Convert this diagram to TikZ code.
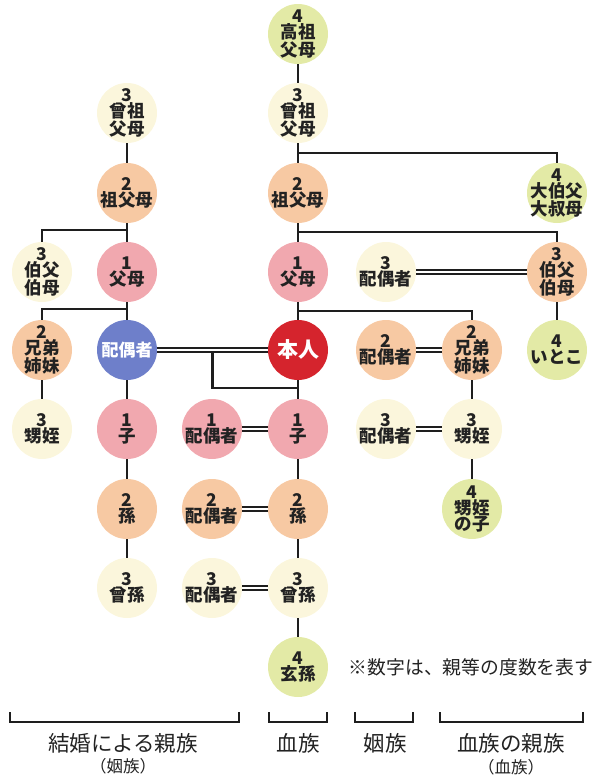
\documentclass[tikz,border=0pt]{standalone}
\usepackage{fontspec}
\setmainfont{Noto Sans CJK JP}
\usetikzlibrary{calc}
\definecolor{cgreen}{HTML}{E3EAA6}
\definecolor{ccream}{HTML}{FBF6DC}
\definecolor{cpeach}{HTML}{F7C9A3}
\definecolor{cpink}{HTML}{F1A8AF}
\definecolor{cblue}{HTML}{6E7FCA}
\definecolor{cred}{HTML}{D5242D}
\definecolor{txt}{HTML}{222222}
\definecolor{lnc}{HTML}{1E1E1E}
\begin{document}
\begin{tikzpicture}[x=1pt,y=-1pt,
  circ/.style={circle,minimum size=60pt,inner sep=-7pt,align=center,text=txt,
    font=\fontsize{17.5}{16}\selectfont\bfseries},
  cfour/.style={circ,fill=cgreen},
  cthree/.style={circ,fill=ccream},
  ctwo/.style={circ,fill=cpeach},
  cone/.style={circ,fill=cpink},
  cspouse/.style={circ,fill=cblue,text=white,font=\fontsize{17}{17}\selectfont\bfseries},
  cself/.style={circ,fill=cred,text=white,font=\fontsize{21}{21}\selectfont\bfseries},
  ln/.style={draw=lnc,line width=2.2pt},
  dbl/.style={draw=lnc,line width=1.7pt,double=white,double distance=2.6pt},
  brk/.style={draw=lnc,line width=1.1pt},
  biglbl/.style={text=txt,font=\fontsize{21.5}{21.5}\selectfont},
  smalllbl/.style={text=txt,font=\fontsize{16.5}{16.5}\selectfont},
  note/.style={text=txt,font=\fontsize{18.8}{18.8}\selectfont}]
\useasboundingbox (0,0) rectangle (603,776);

% ---- centre column (blood line)
\node[cfour]  (d0) at (298,34)  {4\\高祖\\父母};
\node[cthree] (d1) at (298,113) {3\\曾祖\\父母};
\node[ctwo]   (d2) at (298,193) {2\\祖父母};
\node[cone]   (d3) at (298,272) {1\\父母};
\node[cself]  (me) at (298,350) {本人};
\node[cone]   (d5) at (298,429) {1\\子};
\node[ctwo]   (d6) at (298,509) {2\\孫};
\node[cthree] (d7) at (298,588) {3\\曾孫};
\node[cfour]  (d8) at (298,667) {4\\玄孫};

% ---- right side
\node[cfour]  (g2) at (557,193) {4\\大伯父\\大叔母};
\node[ctwo]   (g3) at (557,272) {3\\伯父\\伯母};
\node[cfour]  (g4) at (557,350) {4\\いとこ};
\node[cthree] (e3) at (386,272) {3\\配偶者};
\node[ctwo]   (e4) at (386,350) {2\\配偶者};
\node[cthree] (e5) at (386,429) {3\\配偶者};
\node[ctwo]   (f4) at (472,350) {2\\兄弟\\姉妹};
\node[cthree] (f5) at (472,429) {3\\甥姪};
\node[cfour]  (f6) at (472,509) {4\\甥姪\\の子};

% ---- spouses of descendants
\node[cone]   (c5) at (212,429) {1\\配偶者};
\node[ctwo]   (c6) at (212,509) {2\\配偶者};
\node[cthree] (c7) at (212,588) {3\\配偶者};

% ---- spouse's side
\node[cthree] (b1) at (127,113) {3\\曾祖\\父母};
\node[ctwo]   (b2) at (127,193) {2\\祖父母};
\node[cone]   (b3) at (127,272) {1\\父母};
\node[cspouse] (sp) at (127,350) {配偶者};
\node[cone]   (b5) at (127,429) {1\\子};
\node[ctwo]   (b6) at (127,509) {2\\孫};
\node[cthree] (b7) at (127,588) {3\\曾孫};
\node[cthree] (a3) at (42,272)  {3\\伯父\\伯母};
\node[ctwo]   (a4) at (42,350)  {2\\兄弟\\姉妹};
\node[cthree] (a5) at (42,429)  {3\\甥姪};

% ---- branch points
\coordinate (k1) at (298,153);
\coordinate (k2) at (298,232);
\coordinate (k3) at (298,311);
\coordinate (k4) at (298,388);
\coordinate (mc) at (212.5,352.5);
\coordinate (l1) at (127,230);
\coordinate (l2) at (127,309);

% ---- connectors
\draw[ln] (d0) -- (d1);
\draw[ln] (d1) -- (d2);
\draw[ln] (d2) -- (d3);
\draw[ln] (d3) -- (me);
\draw[ln] (me) -- (d5);
\draw[ln] (d5) -- (d6);
\draw[ln] (d6) -- (d7);
\draw[ln] (d7) -- (d8);
\draw[ln] (k1) -| (g2);
\draw[ln] (k2) -| (g3);
\draw[ln] (k3) -| (f4);
\draw[ln] (g3) -- (g4);
\draw[ln] (f4) -- (f5);
\draw[ln] (f5) -- (f6);
\draw[dbl] (e3) -- (g3);
\draw[dbl] (e4) -- (f4);
\draw[dbl] (e5) -- (f5);
\draw[dbl] (c5) -- (d5);
\draw[dbl] (c6) -- (d6);
\draw[dbl] (c7) -- (d7);
\draw[dbl] (sp) -- (me);
\draw[ln] (mc) |- (k4);

\draw[ln] (b1) -- (b2);
\draw[ln] (b2) -- (b3);
\draw[ln] (b3) -- (sp);
\draw[ln] (sp) -- (b5);
\draw[ln] (b5) -- (b6);
\draw[ln] (b6) -- (b7);
\draw[ln] (l1) -| (a3);
\draw[ln] (l2) -| (a4);
\draw[ln] (a4) -- (a5);

% ---- note
\node[note] (nt) at (471,667) {※数字は、親等の度数を表す};

% ---- brackets and labels
\draw[brk] (10,712) |- (239,722) -- (239,712);
\draw[brk] (269,712) |- (327,722) -- (327,712);
\draw[brk] (355,712) |- (413,722) -- (413,712);
\draw[brk] (440,712) |- (583,722) -- (583,712);
\node[biglbl] (L1) at (123,743) {結婚による親族};
\node[smalllbl] (L1b) at (123,766) {（姻族）};
\node[biglbl] (L2) at (298,743) {血族};
\node[biglbl] (L3) at (385,743) {姻族};
\node[biglbl] (L4) at (511,743) {血族の親族};
\node[smalllbl] (L4b) at (511,767) {（血族）};
\end{tikzpicture}
\end{document}
